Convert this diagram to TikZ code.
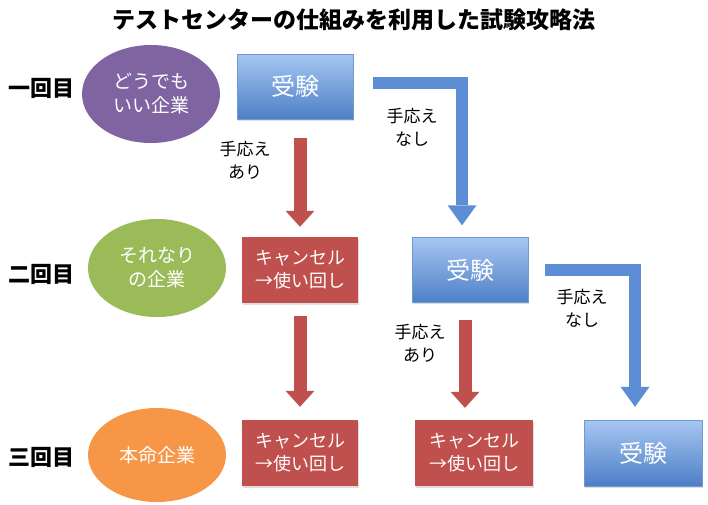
\documentclass[tikz,border=0pt]{standalone}
\usepackage{fontspec}
\setmainfont{Noto Sans CJK JP}
\usetikzlibrary{shapes.geometric,arrows.meta,shadows}
\definecolor{tsPurple}{HTML}{8064A2}
\definecolor{tsGreen}{HTML}{9BBB59}
\definecolor{tsOrange}{HTML}{F79646}
\definecolor{tsRed}{HTML}{C0504D}
\definecolor{tsBlueL}{HTML}{A6C6F2}
\definecolor{tsBlueD}{HTML}{4D7FC6}
\definecolor{tsBlue}{HTML}{5D8DD4}
\begin{document}
\begin{tikzpicture}[x=1pt,y=-1pt,
	kaisu/.style={font=\fontsize{22}{26}\selectfont\bfseries},
	kigyo/.style={ellipse,minimum width=138pt,minimum height=98pt,inner sep=0pt,text=white,align=center,font=\fontsize{19}{24}\selectfont},
	juken/.style={minimum width=116pt,minimum height=65pt,inner sep=0pt,top color=tsBlueL,bottom color=tsBlueD,draw=tsBlueD!80,text=white,font=\fontsize{24}{26}\selectfont,drop shadow={opacity=0.25,shadow xshift=1pt,shadow yshift=-1.5pt}},
	cancel/.style={minimum width=116pt,minimum height=66pt,inner sep=0pt,fill=tsRed,text=white,align=center,font=\fontsize{18}{23}\selectfont,drop shadow={opacity=0.25,shadow xshift=1pt,shadow yshift=-1.5pt}},
	tegotae/.style={align=center,font=\fontsize{17}{23}\selectfont},
	ari/.style={draw=tsRed,line width=13pt,-{Triangle[length=16pt,width=29pt,line width=0pt]}},
	nashi/.style={draw=tsBlue,line width=12pt,-{Triangle[length=20pt,width=29pt,line width=0pt]}}]
	\useasboundingbox (0,0) rectangle (708,504);
	\node[font=\fontsize{23}{26}\selectfont\bfseries] (title) at (354,20) {テストセンターの仕組みを利用した試験攻略法};
	\node[kaisu] (ichi) at (42,88) {一回目};
	\node[kaisu] (ni) at (42,274) {二回目};
	\node[kaisu] (san) at (42,457) {三回目};
	\node[kigyo,fill=tsPurple] (doudemo) at (151,94) {どうでも\\いい企業};
	\node[kigyo,fill=tsGreen] (sorenari) at (157,268) {それなり\\の企業};
	\node[kigyo,fill=tsOrange,minimum height=94pt] (honmei) at (157,455) {本命企業};
	\node[juken] (juken1) at (295,86.5) {受験};
	\node[juken] (juken2) at (470,270) {受験};
	\node[juken,minimum width=118pt,minimum height=66pt] (juken3) at (643,453) {受験};
	\node[cancel] (cancel1) at (300,270) {キャンセル\\→使い回し};
	\node[cancel] (cancel2) at (300,453) {キャンセル\\→使い回し};
	\node[cancel,minimum width=118pt] (cancel3) at (474,453) {キャンセル\\→使い回し};
	\draw[ari,shorten <=19pt,shorten >=10pt] (juken1.south -| cancel1.north) -- (cancel1.north);
	\draw[ari,shorten <=13pt,shorten >=13pt] (cancel1.south) -- (cancel2.north);
	\draw[ari,shorten <=17pt,shorten >=12pt] ([xshift=-5pt]juken2.south) -- ([xshift=-5pt]juken2.south |- cancel3.north);
	\draw[nashi,shorten <=20pt,shorten >=12pt] ([yshift=4pt]juken1.east) -| ([xshift=-8pt]juken2.north);
	\draw[nashi,shorten <=17pt,shorten >=13pt] (juken2.east) -| ([xshift=-8pt]juken3.north);
	\node[tegotae] (ari1) at (245,160) {手応え\\あり};
	\node[tegotae] (nashi1) at (412,127) {手応え\\なし};
	\node[tegotae] (ari2) at (420,343) {手応え\\あり};
	\node[tegotae] (nashi2) at (582,308) {手応え\\なし};
\end{tikzpicture}
\end{document}
